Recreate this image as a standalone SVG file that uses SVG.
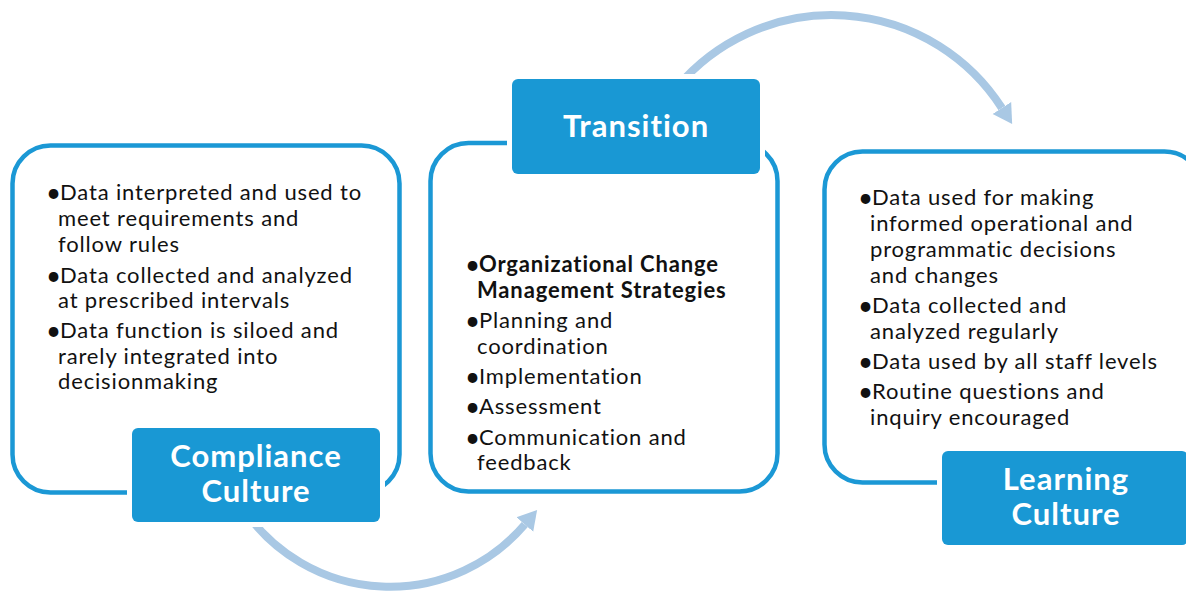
<svg xmlns="http://www.w3.org/2000/svg" width="1186" height="596" viewBox="0 0 1186 596">
<style>
.frame{fill:#ffffff;stroke:#1b98d5;stroke-width:4.5}
.label{fill:#1998d4;stroke:#ffffff;stroke-width:10;paint-order:stroke}
.title{font-family:Lato,"Open Sans",sans-serif;font-weight:bold;font-size:31px;letter-spacing:1px;fill:#ffffff;text-anchor:middle}
.body{font-family:Lato,"Open Sans",sans-serif;font-size:22px;letter-spacing:0.85px;fill:#111111}
.b{font-weight:bold}
.bl{font-family:Lato,"Open Sans",sans-serif;font-size:26px;fill:#111111}
.arc{fill:none;stroke:#a9c8e4;stroke-width:8}
</style>
<defs>
<marker id="head" markerUnits="userSpaceOnUse" markerWidth="22" markerHeight="24" refX="0" refY="11" orient="auto" viewBox="0 0 22 22">
<path d="M0,0 L19,11 L0,22 z" fill="#a9c8e4"/>
</marker>
</defs>
<rect width="1186" height="596" fill="#ffffff"/>
<g id="connectors">
<path class="arc" d="M245,511.3 A177,177 0 0 0 524.8,524.5" marker-end="url(#head)"/>
<path class="arc" d="M676.9,87.2 A202.2,202.2 0 0 1 1001.9,108" marker-end="url(#head)"/>
</g>
<g id="compliance">
<rect class="frame" x="12.5" y="145.5" width="387" height="347" rx="38"/>
<text class="bl"><tspan x="46" y="202">•</tspan><tspan x="46" y="284.5">•</tspan><tspan x="46" y="340">•</tspan></text>
<text class="body"><tspan x="60" y="200">Data interpreted and used to</tspan><tspan x="58" y="226">meet requirements and</tspan><tspan x="58" y="251.5">follow rules</tspan><tspan x="60" y="282.5">Data collected and analyzed</tspan><tspan x="58" y="308">at prescribed intervals</tspan><tspan x="60" y="338">Data function is siloed and</tspan><tspan x="58" y="364">rarely integrated into</tspan><tspan x="58" y="389">decisionmaking</tspan></text>
<rect class="label" x="132" y="428" width="248" height="94" rx="6"/>
<text class="title"><tspan x="256" y="467">Compliance</tspan><tspan x="256" y="502">Culture</tspan></text>
</g>
<g id="transition">
<rect class="frame" x="430.5" y="143" width="347" height="348.5" rx="38"/>
<text class="bl"><tspan x="465" y="274">•</tspan><tspan x="465" y="330">•</tspan><tspan x="465" y="386">•</tspan><tspan x="465" y="416">•</tspan><tspan x="465" y="446.5">•</tspan></text>
<text class="body"><tspan class="b" x="479" y="272">Organizational Change</tspan><tspan class="b" x="477" y="298">Management Strategies</tspan><tspan x="479" y="328">Planning and</tspan><tspan x="477" y="354">coordination</tspan><tspan x="479" y="384">Implementation</tspan><tspan x="479" y="414">Assessment</tspan><tspan x="479" y="444.5">Communication and</tspan><tspan x="477" y="470">feedback</tspan></text>
<rect class="label" x="512" y="79" width="248" height="95" rx="6"/>
<text class="title" x="636" y="137">Transition</text>
</g>
<g id="learning">
<rect class="frame" x="824.5" y="151.5" width="378" height="331" rx="38"/>
<text class="bl"><tspan x="858" y="207">•</tspan><tspan x="858" y="315">•</tspan><tspan x="858" y="371">•</tspan><tspan x="858" y="401">•</tspan></text>
<text class="body"><tspan x="872" y="205">Data used for making</tspan><tspan x="870" y="231">informed operational and</tspan><tspan x="870" y="257">programmatic decisions</tspan><tspan x="870" y="283">and changes</tspan><tspan x="872" y="313">Data collected and</tspan><tspan x="870" y="339">analyzed regularly</tspan><tspan x="872" y="369">Data used by all staff levels</tspan><tspan x="872" y="399">Routine questions and</tspan><tspan x="870" y="425">inquiry encouraged</tspan></text>
<rect class="label" x="942" y="451" width="246" height="94" rx="6"/>
<text class="title"><tspan x="1066" y="490">Learning</tspan><tspan x="1066" y="525">Culture</tspan></text>
</g>
</svg>
